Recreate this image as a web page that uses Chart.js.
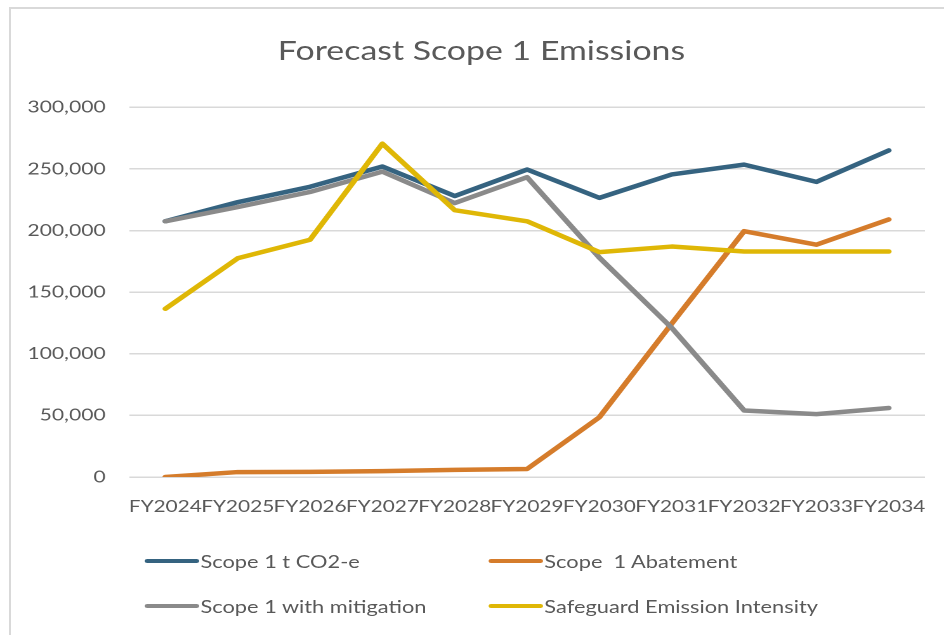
<!DOCTYPE html>
<html>
<head>
<meta charset="utf-8">
<script src="https://cdn.jsdelivr.net/npm/chart.js@4"></script>
<style>
    html, body { margin: 0; padding: 0; background: #fff; }
    body { width: 944px; height: 635px; overflow: hidden; position: relative; }
    #frame {
        position: absolute; left: 9px; top: 7px; right: -10px; bottom: -10px;
        border-left: 2px solid #d9d9d9; border-top: 2px solid #d9d9d9;
    }
    /* the reference is stretched sideways, so the whole chart is drawn narrow and scaled */
    #wrap {
        position: absolute; left: 0; top: 0; width: 744px; height: 635px;
        transform: scaleX(1.2688); transform-origin: 0 0;
    }
    #chart { position: absolute; left: 0; top: 0; }
    #title {
        position: absolute; left: 279.5px; width: 200px; top: 34px; text-align: center;
        font: 26.7px/1.2 Lato, sans-serif; color: #595959; white-space: nowrap;
        display: flex; justify-content: center;
    }
    .item {
        position: absolute; display: flex; align-items: center;
        font: 17.2px Lato, sans-serif; color: #595959; white-space: pre;
        height: 20px; margin-top: -10px;
    }
    .item span { display: inline-block; width: 43px; height: 4.5px; border-radius: 3px; margin-right: 1px; }
</style>
</head>
<body>
<div id="frame"></div>
<div id="wrap">
    <canvas id="chart" width="744" height="517"></canvas>
    <div id="title">Forecast Scope 1 Emissions</div>
    <div id="legend"></div>
</div>
<script>
// ─────────────────────────────
// DATA
// ─────────────────────────────
const years = ["FY2024", "FY2025", "FY2026", "FY2027", "FY2028", "FY2029",
               "FY2030", "FY2031", "FY2032", "FY2033", "FY2034"];

const scope1     = [207500, 223000, 235500, 252000, 228000, 249500, 226500, 245500, 253500, 239500, 265000];
const abatement  = [0, 4000, 4200, 4800, 5800, 6500, 48500, 124500, 199500, 188500, 209000];
const mitigation = [207500, 219000, 231300, 247800, 222300, 243300, 178000, 121000, 54000, 51000, 56000];
const safeguard  = [136500, 177500, 192500, 270500, 216500, 207500, 182500, 187000, 183000, 183000, 183000];

const seriesNames = ["Scope 1 t CO2-e", "Scope  1 Abatement", "Scope 1 with mitigation", "Safeguard Emission Intensity"];
const seriesColors = ["#356380", "#D57C2B", "#8A8A8A", "#DFB706"];

const yTicks = [0, 50000, 100000, 150000, 200000, 250000, 300000];

// ─────────────────────────────
// CHART
// ─────────────────────────────
const textColor = "#595959";
const allSeries = [scope1, abatement, mitigation, safeguard];

function makeSet(i) {
    return {
        label: seriesNames[i],
        data: allSeries[i],
        borderColor: seriesColors[i],
        backgroundColor: seriesColors[i],
        borderWidth: 4.5,
        borderCapStyle: "round",
        borderJoinStyle: "round",
        pointRadius: 0,
        tension: 0,
        fill: false,
        order: 3 - i
    };
}

new Chart(document.getElementById("chart"), {
    type: "line",
    data: {
        labels: years,
        datasets: [0, 1, 2, 3].map(makeSet)
    },
    options: {
        responsive: false,
        animation: false,
        devicePixelRatio: 2,
        layout: { padding: { left: 0, right: 15, top: 107.3, bottom: 0 } },
        plugins: {
            legend: { display: false },
            tooltip: { enabled: false },
            title: { display: false }
        },
        scales: {
            x: {
                offset: true,
                grid: { display: false },
                border: { display: false },
                ticks: {
                    color: textColor,
                    font: { family: "Lato", size: 16.4 },
                    autoSkip: false,
                    maxRotation: 0,
                    padding: 12
                },
                afterFit: (s) => { s.height = 40; }
            },
            y: {
                min: 0,
                max: 300000,
                afterBuildTicks: (s) => { s.ticks = yTicks.map(v => ({ value: v })); },
                grid: { color: "#d9d9d9", lineWidth: 1.5, drawTicks: false },
                border: { display: false },
                ticks: {
                    color: textColor,
                    font: { family: "Lato", size: 16.6 },
                    padding: 18.6,
                    callback: (v) => v.toLocaleString("en-US")
                },
                afterFit: (s) => { s.width = 101.8; }
            }
        }
    }
});
</script>
<script>
// ─────────────────────────────
// LEGEND (two columns, like the original)
// ─────────────────────────────
const legendSpots = [[114, 561], [385, 561], [114, 606], [385, 606]];

document.getElementById("legend").innerHTML = seriesNames.map((name, i) =>
    `<div class="item" style="left:${legendSpots[i][0]}px;top:${legendSpots[i][1]}px">` +
    `<span style="background:${seriesColors[i]}"></span>${name}</div>`
).join("");
</script>
</body>
</html>
